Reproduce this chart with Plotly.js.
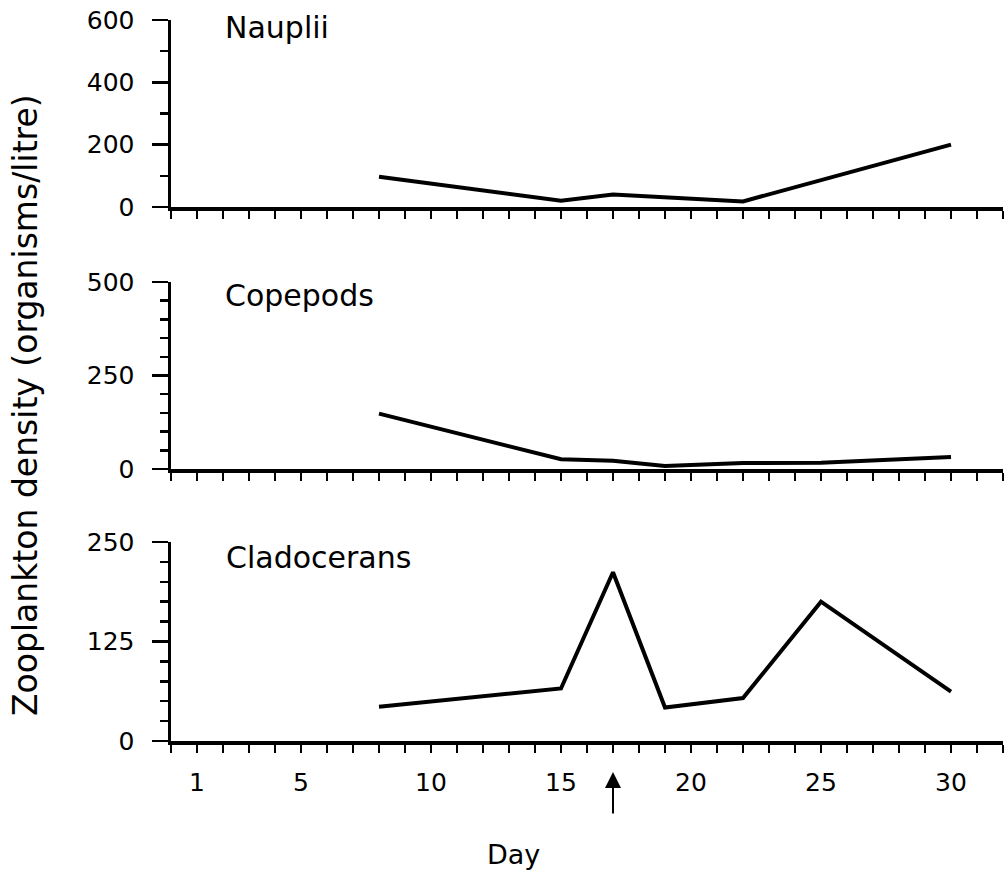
<!DOCTYPE html>
<html>
<head>
<meta charset="utf-8">
<script src="https://cdn.plot.ly/plotly-3.0.1.min.js"></script>
<style>body{margin:0;background:#fff}#chart{width:1005px;height:875px}</style>
</head>
<body>
<div id="chart"></div>
<script>
// ---- data ----
const naupliiDays = [8, 15, 17, 22, 30];
const naupliiValues = [97, 20, 40, 18, 200];
const copepodDays = [8, 15, 17, 19, 22, 25, 30];
const copepodValues = [148, 26, 22, 8, 16, 17, 32];
const cladoceranDays = [8, 15, 17, 19, 22, 25, 30];
const cladoceranValues = [43, 66, 212, 42, 54, 175, 62];
const panelNames = ["Nauplii", "Copepods", "Cladocerans"];
const xTickVals = [1, 5, 10, 15, 20, 25, 30];
const xTickText = ["1", "5", "10", "15", "20", "25", "30"];
const arrowDay = [17];
const xTitle = "Day";
const yTitle = "Zooplankton density (organisms/litre)";

const FONT = "DejaVu Sans, Liberation Sans, Arial, sans-serif";
const lineStyle = {color: "#000", width: 4};

const traces = [
  {x: naupliiDays, y: naupliiValues, xaxis: "x", yaxis: "y", mode: "lines", line: lineStyle, hoverinfo: "skip"},
  {x: copepodDays, y: copepodValues, xaxis: "x2", yaxis: "y2", mode: "lines", line: lineStyle, hoverinfo: "skip"},
  {x: cladoceranDays, y: cladoceranValues, xaxis: "x3", yaxis: "y3", mode: "lines", line: lineStyle, hoverinfo: "skip"}
];

function xAxis(anchor, labels) {
  return {
    anchor: anchor, domain: [0, 1], range: [0, 32],
    showline: true, linecolor: "#000", linewidth: 3.5,
    showgrid: false, zeroline: false,
    tickmode: "array", tickvals: xTickVals, ticktext: xTickText,
    ticks: "outside", ticklen: 8, tickwidth: 2.5, tickcolor: "#000",
    showticklabels: labels, ticklabelstandoff: 8,
    tickfont: {family: FONT, size: 25, color: "#000"},
    minor: {dtick: 1, tick0: 0, ticks: "outside", ticklen: 8, tickwidth: 2.5, tickcolor: "#000", showgrid: false}
  };
}
function yAxis(anchor, domain, max, dtick, minorDtick) {
  return {
    anchor: anchor, domain: domain, range: [0, max],
    showline: true, linecolor: "#000", linewidth: 3.5,
    showgrid: false, zeroline: false,
    tick0: 0, dtick: dtick,
    ticks: "outside", ticklen: 16, tickwidth: 2.5, tickcolor: "#000",
    ticklabelstandoff: 12,
    tickfont: {family: FONT, size: 25, color: "#000"},
    minor: {dtick: minorDtick, tick0: 0, ticks: "outside", ticklen: 8, tickwidth: 2.5, tickcolor: "#000", showgrid: false}
  };
}

const layout = {
  width: 1005, height: 875,
  margin: {l: 171, r: 2, t: 20, b: 134},
  paper_bgcolor: "#fff", plot_bgcolor: "#fff",
  showlegend: false,
  font: {family: FONT, color: "#000"},
  xaxis: xAxis("y", false),
  yaxis: yAxis("x", [0.7406, 1], 600, 200, 100),
  xaxis2: xAxis("y2", false),
  yaxis2: yAxis("x2", [0.3772, 0.6366], 500, 250, 50),
  xaxis3: xAxis("y3", true),
  yaxis3: yAxis("x3", [0, 0.2760], 250, 125, 25),
  annotations: [
    {text: panelNames[0], xref: "x domain", yref: "y domain", x: 0.062, y: 0.96, xanchor: "left", yanchor: "middle", showarrow: false, font: {family: FONT, size: 30, color: "#000"}},
    {text: panelNames[1], xref: "x2 domain", yref: "y2 domain", x: 0.062, y: 0.93, xanchor: "left", yanchor: "middle", showarrow: false, font: {family: FONT, size: 30, color: "#000"}},
    {text: panelNames[2], xref: "x3 domain", yref: "y3 domain", x: 0.064, y: 0.92, xanchor: "left", yanchor: "middle", showarrow: false, font: {family: FONT, size: 30, color: "#000"}},
    {text: yTitle, xref: "paper", yref: "paper", x: -0.1755, y: 0.466, xanchor: "center", yanchor: "middle", textangle: -90, showarrow: false, font: {family: FONT, size: 33, color: "#000"}},
    {text: xTitle, xref: "paper", yref: "paper", x: 0.412, y: -0.158, xanchor: "center", yanchor: "middle", showarrow: false, font: {family: FONT, size: 27, color: "#000"}},
    {text: " ", xref: "x3", yref: "paper", x: arrowDay[0], y: -0.0430, showarrow: true, ax: 0, ay: 50, arrowhead: 2, arrowsize: 1.6, arrowwidth: 2, arrowcolor: "#000", standoff: 0, startstandoff: 0}
  ]
};

Plotly.newPlot("chart", traces, layout, {staticPlot: true, displayModeBar: false});
</script>
</body>
</html>
